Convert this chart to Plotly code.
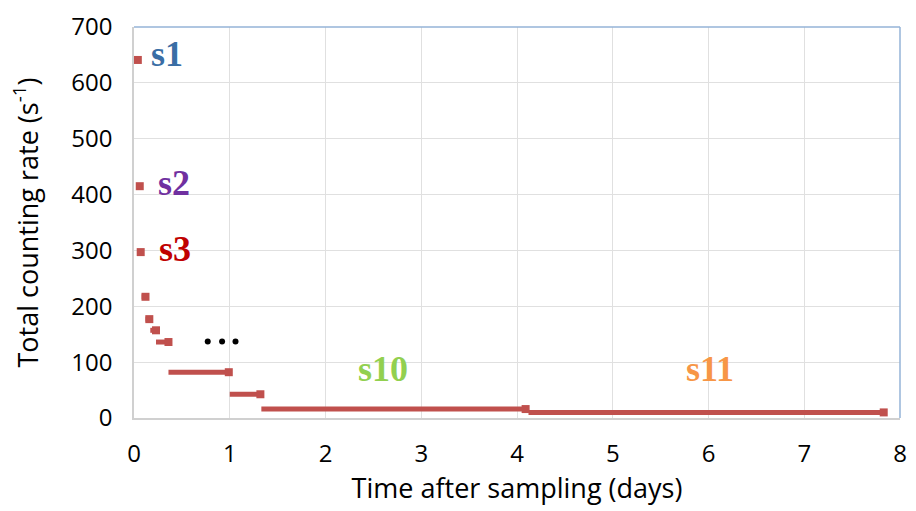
import plotly.graph_objects as go

# Measurement intervals (days) and total counting rates (s^-1)
seg_start = [0.02, 0.03, 0.05, 0.08, 0.12, 0.17, 0.23, 0.36, 1.00, 1.33, 4.12]
seg_end   = [0.07, 0.09, 0.10, 0.15, 0.19, 0.26, 0.39, 1.02, 1.35, 4.12, 7.86]
rates     = [641, 415, 297, 217, 177, 157, 136, 82, 42.5, 16, 10]

labels      = ["s1", "s2", "s3", "s10", "s11"]
label_x     = [0.34, 0.42, 0.43, 2.6, 6.02]
label_y     = [652, 421, 302, 88, 88]
label_color = ["#3A6EA5", "#7030A0", "#C00000", "#92D050", "#F79646"]

dots_x = [0.77, 0.92, 1.06]
dots_y = [137, 137, 137]

x_ticks = [0, 1, 2, 3, 4, 5, 6, 7, 8]
y_ticks = [0, 100, 200, 300, 400, 500, 600, 700]

RED = "#C0504D"

lx, ly = [], []
for a, b, r in zip(seg_start, seg_end, rates):
    lx += [a, b, None]
    ly += [r, r, None]

fig = go.Figure()
fig.add_trace(go.Scatter(x=lx, y=ly, mode="lines",
                         line=dict(color=RED, width=5), hoverinfo="skip",
                         showlegend=False))
fig.add_trace(go.Scatter(x=[e - 0.03 for e in seg_end], y=rates, mode="markers",
                         marker=dict(symbol="square", size=8, color=RED),
                         showlegend=False))
fig.add_trace(go.Scatter(x=dots_x, y=dots_y, mode="markers",
                         marker=dict(symbol="circle", size=6, color="black"),
                         showlegend=False))

for t, x, y, c in zip(labels, label_x, label_y, label_color):
    fig.add_annotation(x=x, y=y, text="<b>%s</b>" % t, showarrow=False,
                       font=dict(family="Liberation Serif", size=36, color=c))

fig.add_shape(type="line", xref="paper", yref="paper", x0=0, x1=1, y0=1, y1=1,
              line=dict(color="#95B3D7", width=1.5))
fig.add_shape(type="line", xref="paper", yref="paper", x0=1, x1=1, y0=0, y1=1,
              line=dict(color="#95B3D7", width=1.5))

fig.update_layout(
    width=916, height=511,
    margin=dict(l=134, r=9, t=17, b=93),
    plot_bgcolor="white", paper_bgcolor="white",
    font=dict(family="Open Sans", size=24, color="black"),
    xaxis=dict(range=[0, 8], tickvals=x_ticks, showgrid=True,
               gridcolor="#E0E0E0", gridwidth=1, zeroline=False,
               showline=True, linecolor="#D0D0D0", linewidth=1.5,
               ticks="", tickfont=dict(size=24), ticklabelstandoff=13,
               ticklabeloverflow="allow",
               title=dict(text="Time after sampling (days)",
                          font=dict(size=27), standoff=6)),
    yaxis=dict(range=[0, 700], tickvals=y_ticks, showgrid=True,
               gridcolor="#E0E0E0", gridwidth=1, zeroline=False,
               showline=True, linecolor="#D0D0D0", linewidth=1.5,
               ticks="", tickfont=dict(size=24), ticklabelstandoff=15,
               ticklabeloverflow="allow",
               title=dict(text="Total counting rate (s<sup>-1</sup>)",
                          font=dict(size=27), standoff=25)),
)

fig.write_html("out.html")
